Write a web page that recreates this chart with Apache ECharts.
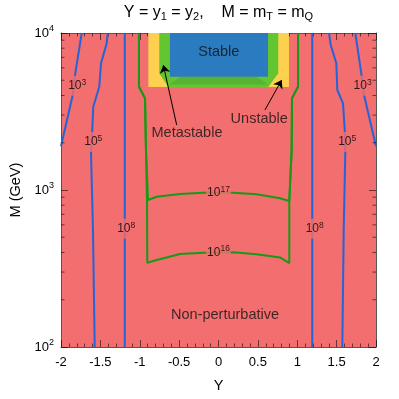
<!DOCTYPE html>
<html><head><meta charset="utf-8">
<script src="https://cdn.jsdelivr.net/npm/echarts@6/dist/echarts.min.js"></script>
<style>html,body{margin:0;padding:0;background:#fff}#c{width:399px;height:399px}</style>
</head><body><div id="c"></div>
<script>
// ---- data ----
const xTicks = [-2, -1.5, -1, -0.5, 0, 0.5, 1, 1.5, 2];
const logMinorTicks = [200,300,400,500,600,700,800,900,2000,3000,4000,5000,6000,7000,8000,9000];

const contour1e3Left  = [[-1.737,10000],[-1.822,5398],[-1.851,4029],[-2.0,1900]];
const contour1e3Right = [[1.737,10000],[1.813,5538],[1.848,4029],[2.0,1900]];
const contour1e5Left  = [[-1.407,10000],[-1.420,8590],[-1.492,6412],[-1.514,4550],[-1.590,3394],[-1.603,2410],[-1.619,1722],[-1.594,556],[-1.572,100]];
const contour1e5Right = [[1.403,10000],[1.425,8395],[1.496,6412],[1.509,4335],[1.581,3566],[1.603,2410],[1.610,1722],[1.590,556],[1.572,100]];
const contour1e8Left  = [[-1.19,100],[-1.19,10000]];
const contour1e8Right = [[1.19,100],[1.19,10000]];
const contour1e17 = [[-1.01,10000],[-1.01,4550],[-0.933,3837],[-0.921,1799],[-0.895,863],[-0.785,906],[-0.489,944],[-0.193,961],[0.188,961],[0.485,940],[0.781,885],[0.899,851],[0.929,1799],[0.933,3837],[1.01,4550],[1.01,10000]];
const contour1e16 = [[-1.01,10000],[-1.01,4550],[-0.933,3837],[-0.921,1799],[-0.908,863],[-0.904,344],[-0.785,358],[-0.489,391],[-0.193,399],[0.188,402],[0.485,390],[0.781,372],[0.899,342],[0.899,863],[0.929,1799],[0.933,3837],[1.01,4550],[1.01,10000]];

const unstableRegion   = [[-0.891,10000],[-0.891,4529],[0.895,4529],[0.895,10000]];
const metastableRegion = [[-0.752,10000],[-0.752,5538],[-0.637,4529],[0.632,4529],[0.759,5538],[0.759,10000]];
const metastableShade  = [[-0.625,4700],[-0.489,5270],[0.485,5270],[0.632,4700]];
const stableRegion     = [[-0.616,10000],[-0.616,5270],[0.629,5270],[0.629,10000]];

const contourLabels = [
  {exp:'3',  Y:-1.794, M:4613},
  {exp:'3',  Y:1.83,   M:4613},
  {exp:'5',  Y:-1.59,  M:2023},
  {exp:'5',  Y:1.634,  M:2023},
  {exp:'8',  Y:-1.172, M:567},
  {exp:'8',  Y:1.222,  M:567},
  {exp:'17', Y:0,      M:960},
  {exp:'16', Y:0,      M:399}
];
const regionLabels = [
  {text:'Stable',           Y:0.004,  M:7516},
  {text:'Unstable',         Y:0.517,  M:2817},
  {text:'Metastable',       Y:-0.40,  M:2296},
  {text:'Non-perturbative', Y:0.083,  M:160}
];
const arrows = [
  {from:[-0.531,2594], to:[-0.701,6253]},
  {from:[0.590,3235],  to:[0.803,5024]}
];

// ---- styles ----
const FONT = 'Liberation Sans, Arial, sans-serif';
const RED = '#f36e6e', YELLOW = '#fdd04f', GREEN = '#63c52f', GREEN_SHADE = '#57b336', BLUE = '#2b7bc0';
const BLUE_LINE = '#2563d9', GREEN_LINE = '#179a17';
const TICK = 'rgba(0,0,0,0.55)';

function polygonSeries(points, color, z) {
  return {
    type:'custom', coordinateSystem:'cartesian2d', silent:true, z:z, clip:true,
    data:[points[0]],
    renderItem:(p, api) => ({
      type:'polygon',
      shape:{points: points.map(pt => api.coord(pt))},
      style:{fill: color}
    })
  };
}
function lineSeries(data, color) {
  return {type:'line', data:data, showSymbol:false, symbol:'none', silent:true, z:3,
    lineStyle:{color:color, width:2}, clip:true};
}
const xAxisBase = {
  type:'value', min:-2, max:2, interval:0.5,
  axisLine:{show:true, onZero:false, lineStyle:{color:'#555', width:1}},
  axisTick:{show:true, inside:true, length:7, lineStyle:{color:TICK}},
  minorTick:{show:true, splitNumber:5, length:3.5, lineStyle:{color:TICK}},
  splitLine:{show:false}, minorSplitLine:{show:false}
};
const yAxisBase = {
  type:'log', logBase:10, min:100, max:10000,
  axisLine:{show:true, onZero:false, lineStyle:{color:'#555', width:1}},
  axisTick:{show:true, inside:true, length:7, lineStyle:{color:TICK}},
  splitLine:{show:false}
};

const chart = echarts.init(document.getElementById('c'), null, {renderer:'canvas'});
chart.setOption({
  animation:false,
  graphic:[{
    type:'text', x:218.5, y:12.5, z:10,
    style:{
      text:'{m|Y = y}{s|1}{m| = y}{s|2}{m|,    M = m}{s|T}{m| = m}{s|Q}',
      align:'center', verticalAlign:'middle',
      rich:{
        m:{fontSize:16, lineHeight:20, fontFamily:FONT, fill:'#000'},
        s:{fontSize:11, lineHeight:14, verticalAlign:'bottom', fontFamily:FONT, fill:'#000'}
      }
    }
  }],
  grid:{left:61, right:23, top:33, bottom:52, show:true, backgroundColor:RED, borderWidth:0},
  xAxis:[
    Object.assign({}, xAxisBase, {
      position:'bottom',
      axisLabel:{margin:9, fontSize:13, color:'#000', fontFamily:FONT,
        formatter: v => (xTicks.indexOf(v) >= 0 ? String(v) : '')},
      name:'Y', nameLocation:'middle', nameGap:31,
      nameTextStyle:{fontSize:14.5, color:'#000', fontFamily:FONT}
    }),
    Object.assign({}, xAxisBase, {position:'top', axisLabel:{show:false}})
  ],
  yAxis:[
    Object.assign({}, yAxisBase, {
      position:'left',
      axisLabel:{
        margin:7, color:'#000',
        formatter: v => '{b|10}{s|' + Math.round(Math.log10(v)) + '}',
        rich:{
          b:{fontSize:13, lineHeight:17, fontFamily:FONT, color:'#000'},
          s:{fontSize:9, lineHeight:10, verticalAlign:'top', fontFamily:FONT, color:'#000'}
        }
      },
      name:'M (GeV)', nameLocation:'middle', nameGap:28,
      nameTextStyle:{fontSize:14.5, color:'#000', fontFamily:FONT}
    }),
    Object.assign({}, yAxisBase, {position:'right', axisLabel:{show:false}})
  ],
  series:[
    polygonSeries(unstableRegion, YELLOW, 1),
    polygonSeries(metastableRegion, GREEN, 1),
    polygonSeries(metastableShade, GREEN_SHADE, 1),
    polygonSeries(stableRegion, BLUE, 1),
    lineSeries(contour1e17, GREEN_LINE),
    lineSeries(contour1e16, GREEN_LINE),
    lineSeries(contour1e3Left, BLUE_LINE),
    lineSeries(contour1e3Right, BLUE_LINE),
    lineSeries(contour1e5Left, BLUE_LINE),
    lineSeries(contour1e5Right, BLUE_LINE),
    lineSeries(contour1e8Left, BLUE_LINE),
    lineSeries(contour1e8Right, BLUE_LINE),
    {
      type:'custom', coordinateSystem:'cartesian2d', silent:true, z:10,
      data: logMinorTicks.map(v => [0, v]),
      renderItem:(p, api) => {
        const v = api.value(1);
        const a = api.coord([-2, v]), b = api.coord([2, v]);
        return {type:'group', children:[
          {type:'line', shape:{x1:a[0], y1:a[1], x2:a[0]+3.5, y2:a[1]}, style:{stroke:TICK, lineWidth:1}},
          {type:'line', shape:{x1:b[0], y1:b[1], x2:b[0]-3.5, y2:b[1]}, style:{stroke:TICK, lineWidth:1}}
        ]};
      }
    },
    {
      type:'scatter', symbolSize:0, silent:true, z:6,
      data: contourLabels.map(l => ({value:[l.Y, l.M], label:{formatter:'{b|10}{s|' + l.exp + '}'}})),
      label:{
        show:true, position:'inside', backgroundColor:RED, padding:[2,1],
        rich:{
          b:{fontSize:12, lineHeight:16, fontFamily:FONT, color:'#000'},
          s:{fontSize:8.5, lineHeight:10, verticalAlign:'top', fontFamily:FONT, color:'#000'}
        }
      }
    },
    {
      type:'scatter', symbolSize:0, silent:true, z:6,
      data: regionLabels.map(l => ({value:[l.Y, l.M], label:{formatter:l.text}})),
      label:{show:true, position:'inside', fontSize:14.5, fontFamily:FONT, color:'#111'}
    },
    {
      type:'lines', coordinateSystem:'cartesian2d', silent:true, z:7,
      data: arrows.map(a => ({coords:[a.from, a.to]})),
      symbol:['none','arrow'], symbolSize:8,
      lineStyle:{color:'#000', width:1, opacity:1, curveness:0}
    }
  ]
});
</script></body></html>
